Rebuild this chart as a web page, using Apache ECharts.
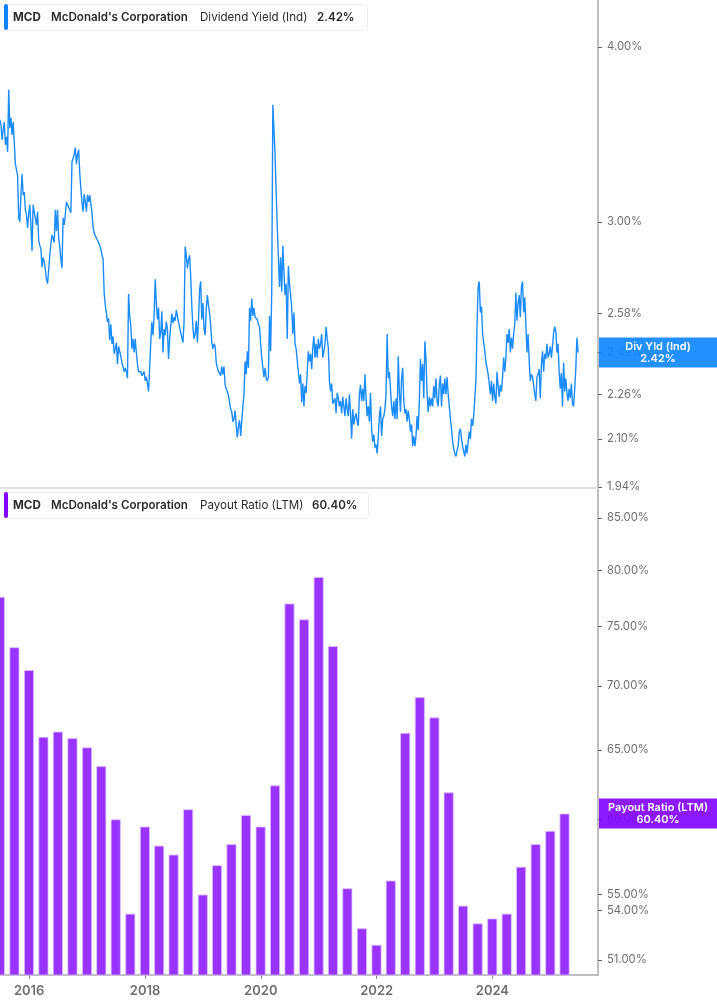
<!DOCTYPE html>
<html>
<head>
<meta charset="utf-8">
<style>html,body{margin:0;padding:0;background:#fff}#chart{width:717px;height:1005px}</style>
<script src="https://cdn.jsdelivr.net/npm/echarts@6/dist/echarts.min.js"></script>
</head>
<body>
<div id="chart"></div>
<script>
// weekly dividend yield (%), starts 2015-06-30
var yieldStart = '2015-06-30';
var yieldValues = [
    3.548,3.52,3.433,3.49,3.535,3.405,3.45,3.365,3.727,
    3.50,3.56,3.46,3.535,3.42,3.30,3.30,3.235,3.02,
    3.00,3.135,3.245,3.135,3.15,3.06,3.035,2.97,3.04,
    3.085,2.985,2.86,3.085,3.05,3.05,2.985,3.05,2.91,
    2.885,2.87,2.785,2.83,2.81,2.774,2.73,2.71,2.774,
    2.84,2.895,2.935,2.92,2.90,3.06,2.955,3.06,2.92,
    2.88,2.82,2.78,3.02,2.985,3.035,3.10,3.085,3.085,
    3.06,3.045,3.31,3.30,3.35,3.39,3.30,3.35,3.378,
    3.25,3.17,3.10,3.05,3.14,3.10,3.05,3.135,3.10,
    3.135,3.09,3.045,2.975,2.945,2.945,2.92,2.91,2.90,
    2.90,2.87,2.84,2.825,2.67,2.615,2.585,2.545,2.56,
    2.47,2.535,2.455,2.485,2.415,2.435,2.46,2.375,2.445,
    2.45,2.405,2.38,2.365,2.345,2.36,2.345,2.32,2.665,
    2.57,2.53,2.435,2.475,2.42,2.475,2.42,2.375,2.345,
    2.345,2.345,2.33,2.325,2.345,2.31,2.325,2.30,2.27,
    2.36,2.46,2.545,2.49,2.57,2.73,2.625,2.555,2.605,
    2.475,2.50,2.59,2.42,2.515,2.49,2.545,2.515,2.395,
    2.475,2.53,2.58,2.54,2.565,2.55,2.595,2.60,2.545,
    2.545,2.50,2.48,2.46,2.545,2.88,2.84,2.78,2.82,
    2.84,2.74,2.61,2.52,2.475,2.495,2.55,2.46,2.55,
    2.685,2.72,2.555,2.625,2.515,2.49,2.60,2.66,2.615,
    2.58,2.53,2.46,2.435,2.455,2.445,2.38,2.36,2.345,
    2.345,2.33,2.365,2.335,2.365,2.295,2.28,2.27,2.255,
    2.255,2.205,2.195,2.16,2.17,2.20,2.145,2.105,2.145,
    2.165,2.11,2.115,2.215,2.26,2.385,2.335,2.425,2.36,
    2.605,2.55,2.645,2.57,2.605,2.565,2.57,2.555,2.535,
    2.525,2.455,2.40,2.36,2.325,2.36,2.32,2.31,2.325,
    2.57,2.425,2.68,3.636,3.636,3.35,3.15,2.97,2.83,
    2.695,2.83,2.675,2.885,2.76,2.66,2.71,2.475,2.79,
    2.71,2.66,2.605,2.495,2.585,2.455,2.435,2.385,2.345,
    2.30,2.335,2.23,2.30,2.215,2.29,2.265,2.26,2.425,
    2.385,2.415,2.355,2.44,2.485,2.40,2.455,2.40,2.475,
    2.435,2.455,2.495,2.40,2.425,2.455,2.525,2.475,2.44,
    2.31,2.27,2.30,2.225,2.225,2.245,2.19,2.265,2.245,
    2.215,2.235,2.19,2.25,2.215,2.18,2.245,2.205,2.18,
    2.26,2.19,2.10,2.205,2.15,2.175,2.19,2.16,2.145,
    2.26,2.295,2.235,2.28,2.235,2.335,2.245,2.18,2.215,
    2.16,2.265,2.135,2.09,2.115,2.07,2.08,2.05,2.11,
    2.18,2.215,2.11,2.17,2.18,2.205,2.26,2.495,2.32,
    2.345,2.28,2.215,2.18,2.235,2.17,2.245,2.17,2.405,
    2.27,2.195,2.32,2.36,2.235,2.19,2.205,2.16,2.20,
    2.17,2.125,2.15,2.075,2.11,2.075,2.11,2.18,2.13,
    2.235,2.395,2.31,2.375,2.245,2.465,2.395,2.26,2.195,
    2.25,2.215,2.245,2.215,2.29,2.245,2.32,2.235,2.215,
    2.295,2.33,2.215,2.30,2.26,2.32,2.26,2.325,2.26,
    2.215,2.17,2.135,2.09,2.065,2.05,2.04,2.06,2.075,
    2.125,2.135,2.10,2.075,2.08,2.04,2.08,2.05,2.09,
    2.125,2.10,2.17,2.145,2.18,2.245,2.31,2.53,2.695,
    2.72,2.585,2.61,2.495,2.50,2.425,2.38,2.36,2.335,
    2.30,2.26,2.31,2.235,2.30,2.25,2.225,2.345,2.29,
    2.25,2.295,2.27,2.325,2.40,2.345,2.40,2.495,2.46,
    2.515,2.42,2.48,2.435,2.495,2.535,2.67,2.55,2.625,
    2.66,2.565,2.695,2.72,2.585,2.65,2.535,2.42,2.495,
    2.385,2.31,2.335,2.325,2.295,2.26,2.235,2.325,2.335,
    2.355,2.245,2.375,2.425,2.345,2.415,2.395,2.455,2.40,
    2.415,2.445,2.40,2.445,2.50,2.525,2.505,2.42,2.455,
    2.345,2.28,2.34,2.215,2.38,2.27,2.32,2.265,2.235,
    2.28,2.245,2.30,2.225,2.215,2.28,2.355,2.48,2.42
];

// quarterly payout ratio (%)
var payoutDates = [
    '2015-06-30','2015-09-30','2015-12-31',
    '2016-03-31','2016-06-30','2016-09-30','2016-12-31',
    '2017-03-31','2017-06-30','2017-09-30','2017-12-31',
    '2018-03-31','2018-06-30','2018-09-30','2018-12-31',
    '2019-03-31','2019-06-30','2019-09-30','2019-12-31',
    '2020-03-31','2020-06-30','2020-09-30','2020-12-31',
    '2021-03-31','2021-06-30','2021-09-30','2021-12-31',
    '2022-03-31','2022-06-30','2022-09-30','2022-12-31',
    '2023-03-31','2023-06-30','2023-09-30','2023-12-31',
    '2024-03-31','2024-06-30','2024-09-30','2024-12-31',
    '2025-03-31'
];
var payoutValues = [
    77.6,73.2,71.3,
    66.0,66.4,65.9,65.2,
    63.8,60.0,53.8,59.5,
    58.2,57.6,60.7,55.0,
    56.9,58.3,60.3,59.5,
    62.4,77.0,75.6,79.4,
    73.3,55.4,52.9,51.9,
    55.9,66.3,69.1,67.5,
    61.9,54.3,53.2,53.5,
    53.8,56.8,58.3,59.2,
    60.4
];

var yieldTicks = [4.00, 3.00, 2.58, 2.42, 2.26, 2.10, 1.94];
var payoutTicks = [85, 80, 75, 70, 65, 60, 55, 54, 51];
var yearTicks = ['2016-01-01', '2018-01-01', '2020-01-01', '2022-01-01', '2024-01-01'];

var lastYield = yieldValues[yieldValues.length - 1];
var lastPayout = payoutValues[payoutValues.length - 1];

function ms(d) { return new Date(d + 'T12:00:00Z').getTime(); }

var yieldData = [];
var t0 = ms(yieldStart);
for (var i = 0; i < yieldValues.length; i++) {
    yieldData.push([t0 + i * 7 * 86400000, yieldValues[i]]);
}
var payoutData = [];
for (var j = 0; j < payoutDates.length; j++) {
    payoutData.push([ms(payoutDates[j]), payoutValues[j]]);
}
var yearMs = yearTicks.map(ms);

var FONT = 'Inter';
var xMin = ms('2015-07-01');
var xMax = ms('2025-10-28');

function priceAxis(grid, ticks, min, max) {
    return {
        type: 'log',
        gridIndex: grid,
        position: 'right',
        min: min,
        max: max,
        splitLine: { show: false },
        minorTick: { show: false },
        axisLine: { show: true, lineStyle: { color: '#aaaaaa', width: 1.5 } },
        axisTick: { show: true, length: 4, customValues: ticks, lineStyle: { color: '#666666' } },
        axisLabel: {
            customValues: ticks,
            margin: 9,
            padding: [4, 0, 0, 0],
            color: '#6e6e6e',
            fontFamily: FONT,
            fontSize: 11.3,
            hideOverlap: false,
            formatter: function (v) { return Number(v).toFixed(2) + '%'; }
        }
    };
}

var chart = echarts.init(document.getElementById('chart'), null, { renderer: 'canvas' });
chart.setOption({
    animation: false,
    backgroundColor: '#ffffff',
    grid: [
        { left: 0, top: 0, width: 598, height: 488 },
        { left: 0, top: 489, width: 598, height: 486 }
    ],
    xAxis: [
        {
            type: 'value', gridIndex: 0, min: xMin, max: xMax, scale: true,
            axisLine: { show: true, onZero: false, lineStyle: { color: '#e0e0e0', width: 2 } },
            axisTick: { show: false },
            axisLabel: { show: false },
            splitLine: { show: false }
        },
        {
            type: 'value', gridIndex: 1, min: xMin, max: xMax, scale: true,
            axisLine: { show: true, onZero: false, lineStyle: { color: '#aaaaaa', width: 1.5 } },
            axisTick: { show: true, length: 4, customValues: yearMs, lineStyle: { color: '#888888' } },
            axisLabel: {
                customValues: yearMs,
                margin: 10,
                color: '#6e6e6e',
                fontFamily: FONT,
                fontSize: 13,
                fontWeight: 600,
                formatter: function (v) { return String(new Date(v).getUTCFullYear()); }
            },
            splitLine: { show: false }
        }
    ],
    yAxis: [
        priceAxis(0, yieldTicks, 1.937, 4.32),
        priceAxis(1, payoutTicks, 50.12, 87.9)
    ],
    series: [
        {
            name: 'Div Yld (Ind)',
            type: 'line',
            xAxisIndex: 0,
            yAxisIndex: 0,
            data: yieldData,
            showSymbol: false,
            sampling: 'none',
            lineStyle: { color: '#1a8cff', width: 1.4 }
        },
        {
            name: 'Payout Ratio (LTM)',
            type: 'bar',
            xAxisIndex: 1,
            yAxisIndex: 1,
            data: payoutData,
            barWidth: 10,
            itemStyle: { color: '#9933ff', borderColor: '#dcbcff', borderWidth: 0.8 }
        }
    ]
});

// legend box across the top of a pane
function legendBox(top, width, color, metric, metricX, value, valueX) {
    function txt(x, s, weight) {
        return {
            type: 'text', left: x, top: top + 8, z: 52,
            style: { text: s, fill: '#2b2b2b', font: weight + ' 11.6px ' + FONT }
        };
    }
    return [
        {
            type: 'rect', left: 4, top: top,
            shape: { width: width, height: 26, r: 3 },
            style: { fill: '#ffffff', stroke: '#ececec', lineWidth: 1 }, z: 50
        },
        {
            type: 'rect', left: 4, top: top,
            shape: { width: 4, height: 26, r: 2 },
            style: { fill: color }, z: 51
        },
        txt(13, 'MCD', 700),
        txt(51, "McDonald's Corporation", 600),
        txt(metricX, metric, 400),
        txt(valueX, value, 600)
    ];
}

// value tag on the price axis, placed through the axis scale
function valueTag(axisIndex, val, color, name) {
    var y = chart.convertToPixel({ yAxisIndex: axisIndex }, val);
    return [
        {
            type: 'rect', left: 599, top: y - 15,
            shape: { width: 118, height: 30 },
            style: { fill: color, opacity: 0.9 }, z: 60
        },
        {
            type: 'text', x: 658, y: y - 12,
            style: {
                text: name + '\n' + val.toFixed(2) + '%',
                align: 'center',
                fill: '#ffffff',
                font: '600 11px ' + FONT,
                lineHeight: 12
            },
            z: 61
        }
    ];
}

chart.setOption({
    graphic: [].concat(
        legendBox(4, 363, '#0a84ff', 'Dividend Yield (Ind)', 200, lastYield.toFixed(2) + '%', 317),
        legendBox(492, 364, '#8000ff', 'Payout Ratio (LTM)', 200, lastPayout.toFixed(2) + '%', 312),
        valueTag(0, lastYield, '#0a84ff', 'Div Yld (Ind)'),
        valueTag(1, lastPayout, '#8000ff', 'Payout Ratio (LTM)')
    )
});
</script>
</body>
</html>
